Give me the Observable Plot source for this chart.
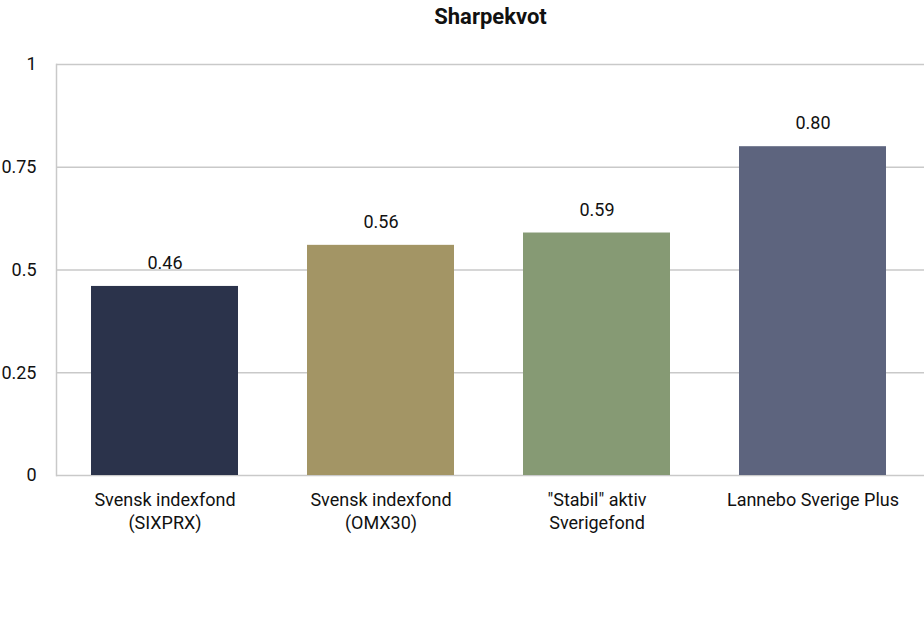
<!DOCTYPE html>
<html>
<head>
<meta charset="utf-8">
<script src="https://cdn.jsdelivr.net/npm/d3@7"></script>
<script src="https://cdn.jsdelivr.net/npm/@observablehq/plot@0.6"></script>
<style>
  body { margin: 0; background: #fff; }
  #chart svg { font-family: Roboto, sans-serif; }
</style>
</head>
<body>
<div id="chart"></div>
<script>
const categories = ["Svensk indexfond\n(SIXPRX)", "Svensk indexfond\n(OMX30)", "\"Stabil\" aktiv\nSverigefond", "Lannebo Sverige Plus"];
const values = [0.46, 0.56, 0.59, 0.80];
const valueLabels = ["0.46", "0.56", "0.59", "0.80"];
const colors = ["#2b334b", "#a39565", "#869a74", "#5d647e"];
const yTicks = [0, 0.25, 0.5, 0.75, 1];
const yTickLabels = ["0", "0.25", "0.5", "0.75", "1"];
const title = "Sharpekvot";

const data = categories.map((c, i) => ({cat: c, value: values[i], label: valueLabels[i], color: colors[i]}));

const chart = Plot.plot({
  width: 924,
  height: 618,
  marginTop: 64,
  marginBottom: 143,
  marginLeft: 56,
  marginRight: 0,
  style: {fontFamily: "Roboto, sans-serif", background: "#fff"},
  x: {domain: categories, paddingInner: 0.32, paddingOuter: 0.157, range: [56, 920], label: null},
  y: {domain: [0, 1], label: null},
  marks: [
    Plot.ruleY(yTicks, {stroke: "#c9c9c9", strokeWidth: 1.5}),
    Plot.frame({anchor: "left", stroke: "#c9c9c9", strokeWidth: 1.5}),
    Plot.barY(data, {x: "cat", y: "value", fill: "color"}),
    Plot.text(data, {x: "cat", y: "value", text: "label", dy: -23, fontSize: 18, fill: "#111"}),
    Plot.axisY({ticks: yTicks, tickFormat: d => yTickLabels[yTicks.indexOf(d)], tickSize: 0, tickPadding: 20, fontSize: 18, fill: "#111", label: null}),
    Plot.axisX({tickSize: 0, tickPadding: 14, fontSize: 18, fill: "#111", lineHeight: 1.28, label: null}),
    Plot.text([title], {frameAnchor: "top", dy: -56, fontSize: 22, fontWeight: "bold", fill: "#111"})
  ]
});
document.getElementById("chart").appendChild(chart);
</script>
</body>
</html>
